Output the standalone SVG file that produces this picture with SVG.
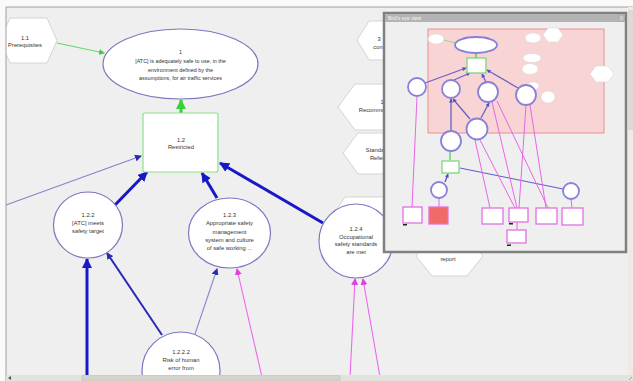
<svg xmlns="http://www.w3.org/2000/svg" width="633" height="381" viewBox="0 0 633 381">
<defs>
<style>
text{font-family:"Liberation Sans",Arial,sans-serif;fill:#333;text-anchor:middle}
.t{font-size:5.8px}
.te{font-size:5.4px}
.hex{fill:#fff;stroke:#d4d4d4;stroke-width:1}
.goal{fill:#fff;stroke:#7a78c0;stroke-width:1.2}
.strat{fill:#fff;stroke:#8ee08e;stroke-width:1.2}
.mg{fill:#fff;stroke:#8a80d8;stroke-width:1.8}
.mh{fill:#fff;stroke:#d8d8d8;stroke-width:0.6}
.mr{fill:#fff;stroke:#e070e0;stroke-width:1.3}
</style>
<marker id="aBlue" markerUnits="userSpaceOnUse" markerWidth="10" markerHeight="10" refX="9" refY="5" orient="auto"><path d="M0,0 L10,5 L0,10 z" fill="#1818c8"/></marker>
<marker id="aSlate" markerUnits="userSpaceOnUse" markerWidth="7" markerHeight="7" refX="6" refY="3.5" orient="auto"><path d="M0,0 L7,3.5 L0,7 z" fill="#2a2ab0"/></marker>
<marker id="aMag" markerUnits="userSpaceOnUse" markerWidth="7" markerHeight="7" refX="6" refY="3.5" orient="auto"><path d="M0,0 L7,3.5 L0,7 z" fill="#e040e0"/></marker>
<marker id="aGreen" markerUnits="userSpaceOnUse" markerWidth="10" markerHeight="10" refX="9" refY="5" orient="auto"><path d="M0,0 L10,5 L0,10 z" fill="#3ad03a"/></marker>
<marker id="aGreenS" markerUnits="userSpaceOnUse" markerWidth="6" markerHeight="6" refX="5" refY="3" orient="auto"><path d="M0,0 L6,3 L0,6 z" fill="#3ad03a"/></marker>
<marker id="aMini" markerUnits="userSpaceOnUse" markerWidth="4" markerHeight="4" refX="3.5" refY="2" orient="auto"><path d="M0,0 L4,2 L0,4 z" fill="#5050c0"/></marker>
<marker id="aMiniM" markerUnits="userSpaceOnUse" markerWidth="4" markerHeight="4" refX="3.5" refY="2" orient="auto"><path d="M0,0 L4,2 L0,4 z" fill="#e040e0"/></marker>
</defs>

<!-- window background -->
<rect x="0" y="0" width="633" height="381" fill="#fafafa"/>
<rect x="6" y="7" width="627" height="370" fill="#efefef"/>
<line x1="6" y1="7" x2="633" y2="7" stroke="#a0a0a0" stroke-width="1"/>

<!-- background hexagons -->
<g id="n1_1">
<polygon class="hex" points="0,40.5 10,18 47,18 57,40.5 47,63 10,63"/>
<text class="t" x="25" y="39.5">1.1</text>
<text class="t" x="25" y="47">Prerequisites</text>
</g>
<g id="hexA">
<polygon class="hex" points="357,40 369,21 400,21 411,40 400,60 369,60"/>
<text class="t" x="379" y="41">3</text>
<text class="t" x="378" y="49">con</text>
</g>
<g id="hexB">
<polygon class="hex" points="338,107 355,84 410,84 427,107 410,130 355,130"/>
<text class="t" x="382" y="104">1</text>
<text class="t" x="372" y="112">Recomme</text>
</g>
<g id="hexC">
<polygon class="hex" points="343,153 358,133 410,133 425,153 410,174 358,174"/>
<text class="t" x="375" y="152">Standa</text>
<text class="t" x="377" y="160">Refer</text>
</g>
<g id="hexD">
<polygon class="hex" points="328,222 345,197 400,197 417,222 400,247 345,247"/>
</g>
<g id="hexReport">
<polygon class="hex" points="416,256 432,236 467,236 483,256 467,276 432,276"/>
<text class="t" x="448" y="261">report</text>
</g>

<!-- connectors -->
<g id="connectors" fill="none">
<line x1="57" y1="43" x2="104" y2="53" stroke="#60d860" stroke-width="1" marker-end="url(#aGreenS)"/>
<line x1="181" y1="113" x2="181" y2="100" stroke="#3ad03a" stroke-width="3" marker-end="url(#aGreen)"/>
<line x1="6" y1="205" x2="141" y2="156" stroke="#8484c4" stroke-width="1.1" marker-end="url(#aSlate)"/>
<line x1="115" y1="205" x2="147" y2="172" stroke="#1818c8" stroke-width="3" marker-end="url(#aBlue)"/>
<line x1="217" y1="198" x2="202" y2="173" stroke="#1818c8" stroke-width="3" marker-end="url(#aBlue)"/>
<line x1="323" y1="223" x2="220" y2="163" stroke="#1818c8" stroke-width="3" marker-end="url(#aBlue)"/>
<line x1="87" y1="377" x2="87" y2="259" stroke="#1818c8" stroke-width="3" marker-end="url(#aBlue)"/>
<line x1="162" y1="335" x2="107" y2="253" stroke="#2a2ab8" stroke-width="2" marker-end="url(#aSlate)"/>
<line x1="195" y1="334" x2="217" y2="269" stroke="#8888c8" stroke-width="1.1" marker-end="url(#aSlate)"/>
<line x1="262" y1="377" x2="237" y2="269" stroke="#ee66ee" stroke-width="1.1" marker-end="url(#aMag)"/>
<line x1="350" y1="377" x2="355" y2="279" stroke="#ee66ee" stroke-width="1.1" marker-end="url(#aMag)"/>
<line x1="380" y1="377" x2="363" y2="279" stroke="#ee66ee" stroke-width="1.1" marker-end="url(#aMag)"/>
</g>

<!-- main nodes -->
<g id="n1">
<ellipse class="goal" cx="180.5" cy="64" rx="77.5" ry="35"/>
<text class="te" x="180.5" y="54">1</text>
<text class="te" x="180.5" y="63">[ATC] is adequately safe to use, in the</text>
<text class="te" x="180.5" y="71.5">environment defined by the</text>
<text class="te" x="180.5" y="80">assumptions, for air traffic services</text>
</g>
<g id="n1_2">
<rect class="strat" x="143" y="113" width="75" height="59" rx="2"/>
<text class="t" x="181" y="142">1.2</text>
<text class="t" x="181" y="149">Restricted</text>
</g>
<g id="n1_2_2">
<ellipse class="goal" cx="88" cy="225" rx="34.5" ry="33"/>
<text class="t" x="88" y="217">1.2.2</text>
<text class="t" x="88" y="224.5">[ATC] meets</text>
<text class="t" x="88" y="232.5">safety target</text>
</g>
<g id="n1_2_3">
<ellipse class="goal" cx="229.5" cy="233" rx="41" ry="35"/>
<text class="t" x="229.5" y="217">1.2.3</text>
<text class="t" x="229.5" y="225">Appropriate safety</text>
<text class="t" x="229.5" y="233.5">management</text>
<text class="t" x="229.5" y="242">system and culture</text>
<text class="t" x="229.5" y="250">of safe working ...</text>
</g>
<g id="n1_2_4">
<circle class="goal" cx="356" cy="241" r="37"/>
<text class="t" x="356" y="231">1.2.4</text>
<text class="t" x="356" y="238.5">Occupational</text>
<text class="t" x="356" y="246">safety standards</text>
<text class="t" x="356" y="253.5">are met</text>
</g>
<g id="n1_2_2_2">
<circle class="goal" cx="181" cy="371" r="39"/>
<text class="t" x="181" y="354">1.2.2.2</text>
<text class="t" x="181" y="362">Risk of human</text>
<text class="t" x="181" y="370">error from</text>
</g>

<!-- Bird's eye view overlay -->
<g id="birdseye">
<rect x="384" y="13" width="242" height="239" fill="#efefef" stroke="#808080" stroke-width="2.5"/>
<rect x="385" y="14" width="240" height="8" fill="#b4b4b4"/>
<text x="388" y="20" style="font-size:5px;fill:#f4f4f4;text-anchor:start">Bird's eye view</text>
<rect x="619" y="15" width="5" height="6" fill="#c8c8c8" stroke="#909090" stroke-width="0.5"/>
<rect x="428" y="29" width="176" height="104" fill="#f8d4d4" stroke="#e89090" stroke-width="1"/>
<g fill="none" stroke-width="1.3">
<line x1="443" y1="40" x2="456" y2="43" stroke="#7cd87c" stroke-width="0.8"/>
<line x1="476" y1="58" x2="476" y2="54" stroke="#50d050" stroke-width="1.5"/>
<line x1="425" y1="83" x2="466" y2="68" stroke="#6a60c8" marker-end="url(#aMini)"/>
<line x1="454" y1="80" x2="470" y2="73" stroke="#6a60c8" marker-end="url(#aMini)"/>
<line x1="486" y1="82" x2="482" y2="74" stroke="#6a60c8" marker-end="url(#aMini)"/>
<line x1="518" y1="88" x2="487" y2="70" stroke="#6a60c8" marker-end="url(#aMini)"/>
<line x1="470" y1="119" x2="453" y2="99" stroke="#6a60c8" marker-end="url(#aMini)"/>
<line x1="481" y1="118" x2="489" y2="103" stroke="#6a60c8" marker-end="url(#aMini)"/>
<line x1="451" y1="131" x2="451" y2="99" stroke="#6a60c8" marker-end="url(#aMini)"/>
<line x1="450" y1="160" x2="450" y2="152" stroke="#50d050"/>
<line x1="445" y1="182" x2="448" y2="174" stroke="#5050c0" marker-end="url(#aMini)"/>
<line x1="563" y1="189" x2="460" y2="168" stroke="#5a5ad0" stroke-width="1"/>
<g stroke="#e866e8" stroke-width="1">
<line x1="417" y1="97" x2="412" y2="207"/>
<line x1="439" y1="198" x2="439" y2="207"/>
<line x1="475" y1="140" x2="490" y2="208"/>
<line x1="480" y1="140" x2="515" y2="208"/>
<line x1="492" y1="102" x2="517" y2="208"/>
<line x1="497" y1="101" x2="548" y2="208"/>
<line x1="526" y1="105" x2="519" y2="208"/>
<line x1="530" y1="105" x2="546" y2="208"/>
<line x1="571" y1="199" x2="572" y2="208"/>
<line x1="517" y1="222" x2="517" y2="230"/>
</g>
</g>
<!-- mini hexagon/white nodes -->
<ellipse class="mh" cx="436" cy="39" rx="8" ry="5"/>
<ellipse class="mh" cx="533" cy="38" rx="8" ry="5"/>
<polygon class="mh" points="543,35 548,28 558,28 563,35 558,42 548,42"/>
<ellipse class="mh" cx="532" cy="58" rx="9" ry="4.5"/>
<ellipse class="mh" cx="530" cy="69" rx="8" ry="5.5"/>
<polygon class="mh" points="590,74 596,66 608,66 614,74 608,82 596,82"/>
<ellipse class="mh" cx="548" cy="97" rx="7" ry="6"/>
<ellipse class="mh" cx="533" cy="86" rx="6" ry="4"/>
<!-- mini goals -->
<ellipse class="mg" cx="476" cy="45" rx="21" ry="8"/>
<rect x="467" y="58" width="19" height="15" fill="#fff" stroke="#7cd87c" stroke-width="1.3"/>
<circle class="mg" cx="417" cy="87" r="9"/>
<circle class="mg" cx="451" cy="89" r="9"/>
<circle class="mg" cx="488" cy="92" r="10"/>
<circle class="mg" cx="526" cy="95" r="10"/>
<circle class="mg" cx="477" cy="129" r="10.5"/>
<circle class="mg" cx="451" cy="141" r="10"/>
<rect x="442" y="161" width="17" height="12" fill="#fff" stroke="#7cd87c" stroke-width="1.3"/>
<circle class="mg" cx="439" cy="190" r="8"/>
<circle class="mg" cx="571" cy="191" r="8"/>
<rect class="mr" x="403" y="207" width="19" height="16"/>
<rect x="429" y="207" width="19" height="17" fill="#f06a6a" stroke="#e070e0" stroke-width="1.3"/>
<rect class="mr" x="482" y="208" width="21" height="16"/>
<rect class="mr" x="509" y="208" width="19" height="14"/>
<rect class="mr" x="536" y="208" width="21" height="16"/>
<rect class="mr" x="562" y="208" width="21" height="17"/>
<rect class="mr" x="507" y="230" width="19" height="13"/>
<rect x="403" y="224" width="4" height="1.5" fill="#222"/>
<rect x="509" y="223" width="4" height="1.5" fill="#222"/>
<rect x="507" y="244.5" width="4" height="1.5" fill="#222"/>
</g>

<!-- borders and scrollbars -->
<rect x="0" y="7" width="6" height="374" fill="#fafafa"/>
<line x1="6" y1="7" x2="6" y2="381" stroke="#a0a0a0" stroke-width="1"/>
<rect x="628" y="7" width="5" height="370" fill="#ecebe6"/>
<rect x="628" y="10" width="5" height="120" fill="#dcdad4"/>
<rect x="6" y="375" width="627" height="6" fill="#e4e2dc"/>
<rect x="82" y="375.5" width="258" height="5.5" fill="#d6d3cb" stroke="#bbb" stroke-width="0.5"/>
<polygon points="8,378 11,376 11,380" fill="#555"/>
<line x1="629" y1="380" x2="632" y2="377" stroke="#888" stroke-width="0.7"/>
</svg>
